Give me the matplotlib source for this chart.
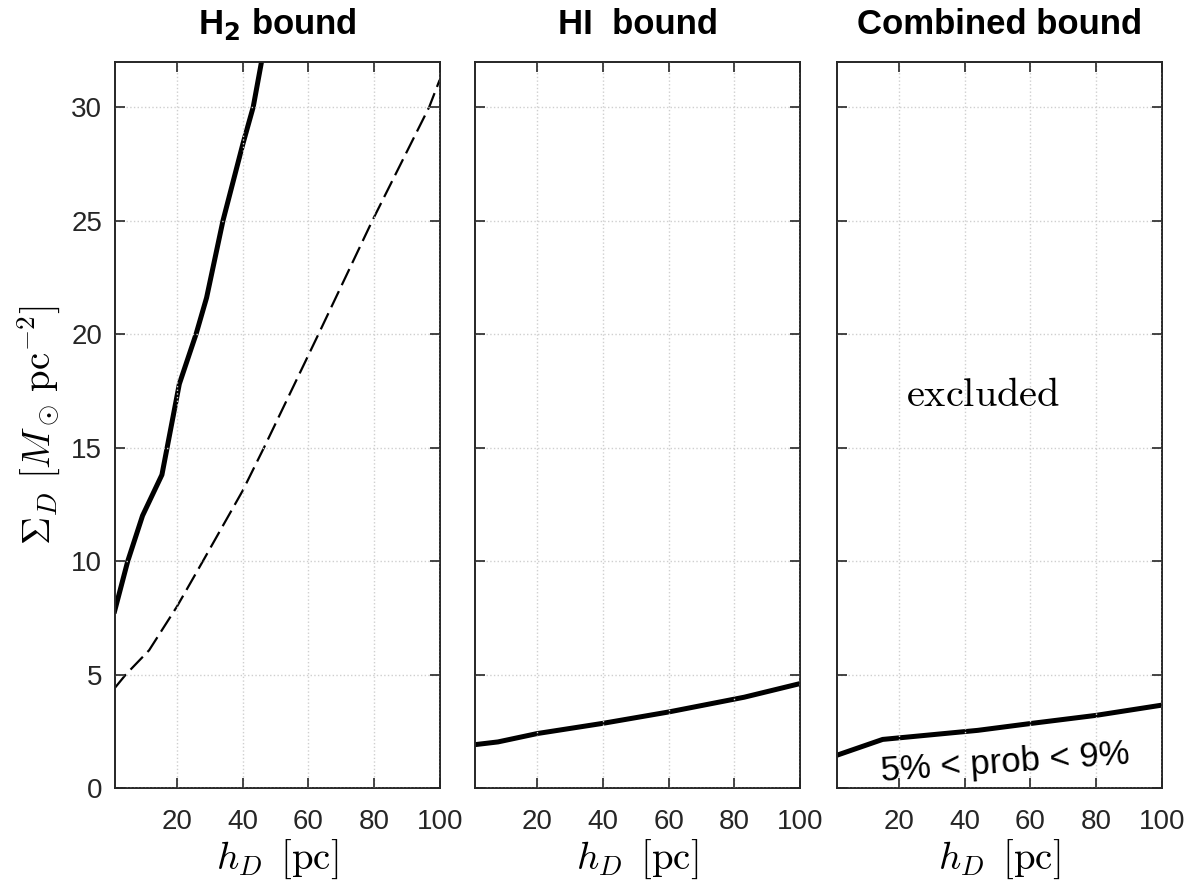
import numpy as np
import matplotlib
matplotlib.use("Agg")
import matplotlib.pyplot as plt

plt.rcParams['font.family'] = ['Liberation Sans', 'DejaVu Sans']
plt.rcParams['mathtext.fontset'] = 'cm'

# H2 bound
h2_h = [1, 5, 9.5, 15.4, 20.7, 25.8, 29, 34, 40.1, 43.2, 46.5]
h2_sigma = [7.8, 10.0, 12.0, 13.8, 17.8, 20.0, 21.6, 25.0, 28.4, 30.0, 32.6]
h2_dash_h = [1, 4.4, 11.5, 20, 27.9, 40, 46.5, 63.1, 79.5, 96.8, 100]
h2_dash_sigma = [4.4, 5.0, 6.07, 8.0, 10.0, 13.1, 15.0, 20.0, 25.0, 30.0, 31.2]

# HI bound
hi_h = [1, 8, 20, 40, 60, 83, 100]
hi_sigma = [1.91, 2.03, 2.4, 2.85, 3.35, 4.0, 4.6]

# combined bound
comb_h = [1, 15, 44, 60, 80, 100]
comb_sigma = [1.44, 2.14, 2.54, 2.84, 3.2, 3.65]

titles = ['H$_\\mathbf{2}$ bound', 'HI  bound', 'Combined bound']
xticks = [20, 40, 60, 80, 100]
yticks = [0, 5, 10, 15, 20, 25, 30]

fig = plt.figure(figsize=(11.98, 8.92), dpi=100)
lefts = [0.0957, 0.3965, 0.6984]
axes = [fig.add_axes([l, 0.1166, 0.2713, 0.8142]) for l in lefts]

axes[0].plot(h2_h, h2_sigma, color='black', lw=3.6)
axes[0].plot(h2_dash_h, h2_dash_sigma, color='black', lw=1.6, dashes=(8, 3))
axes[1].plot(hi_h, hi_sigma, color='black', lw=3.6)
axes[2].plot(comb_h, comb_sigma, color='black', lw=3.6)

for i, ax in enumerate(axes):
    ax.set_xlim(1, 100)
    ax.set_ylim(0, 32)
    ax.set_xticks(xticks)
    ax.set_yticks(yticks)
    ax.grid(True, ls=':', color='#cfcfcf', lw=1.0)
    ax.set_axisbelow(False)
    ax.tick_params(direction='in', length=7, width=1.2, top=True, right=True,
                   labelsize=20, colors='#262626')
    ax.tick_params(axis='x', pad=15)
    ax.tick_params(axis='y', pad=9)
    for s in ax.spines.values():
        s.set_color('#262626')
        s.set_linewidth(1.4)
    ax.set_xlabel(r'$h_D\ \, [\mathrm{pc}]$', fontsize=28, labelpad=2)
    if i > 0:
        ax.set_yticklabels([])
    if i == 0:
        ax.set_title(titles[i], fontsize=25, fontweight='bold', pad=20,
                     math_fontfamily='dejavusans')
    else:
        ax.set_title(titles[i], fontsize=25, fontweight='bold', pad=20)

axes[0].set_ylabel(r'$\Sigma_D\ [M_\odot\,\mathrm{pc}^{-2}]$', fontsize=28, labelpad=6)

axes[2].text(45.5, 17.3, r'$\mathrm{excluded}$', fontsize=29, ha='center', va='center')
axes[2].text(52.3, 1.1, '5% < prob < 9%', fontsize=25, ha='center', va='center',
             rotation=4)

fig.savefig('out.png', dpi=100)
